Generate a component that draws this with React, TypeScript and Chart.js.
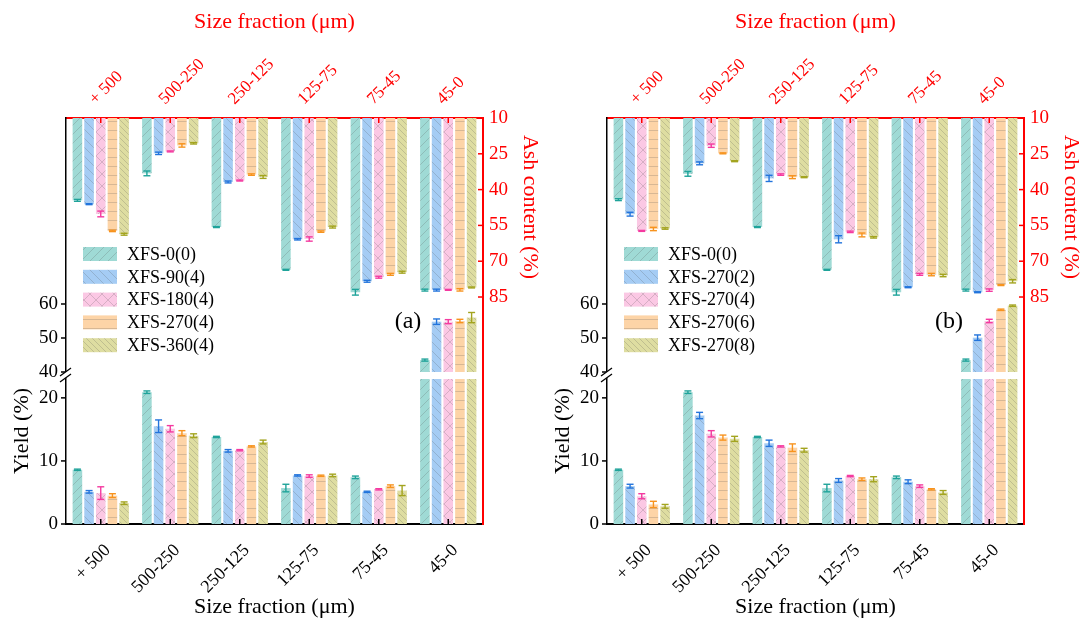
import React, { useEffect, useRef } from 'react';
import { Chart, registerables } from 'chart.js';

Chart.register(...registerables);

const SERIF = '"Liberation Serif", "Times New Roman", Times, serif';
Chart.defaults.font.family = SERIF;

// ---------- data ----------
const categories = ['+ 500', '500-250', '250-125', '125-75', '75-45', '45-0'];
const yieldLowTicks = [0, 10, 20];
const yieldHighTicks = [40, 50, 60];
const ashTicks = [10, 25, 40, 55, 70, 85];

const seriesA = ['XFS-0(0)', 'XFS-90(4)', 'XFS-180(4)', 'XFS-270(4)', 'XFS-360(4)'];
const seriesB = ['XFS-0(0)', 'XFS-270(2)', 'XFS-270(4)', 'XFS-270(6)', 'XFS-270(8)'];

// Panel (a) yield (%)
const yieldA0 = [8.6, 20.9, 13.8, 5.7, 7.4, 43.5];
const yieldA1 = [5.1, 15.5, 11.6, 7.7, 5.1, 54.8];
const yieldA2 = [4.9, 15.1, 11.7, 7.6, 5.5, 54.8];
const yieldA3 = [4.5, 14.4, 12.3, 7.65, 6.0, 55.0];
const yieldA4 = [3.3, 14.0, 13.0, 7.7, 5.3, 56.0];
const yieldErrA0 = [0.1, 0.2, 0.1, 0.6, 0.2, 0.3];
const yieldErrA1 = [0.2, 1.0, 0.2, 0.1, 0.1, 0.8];
const yieldErrA2 = [1.0, 0.5, 0.1, 0.2, 0.1, 0.6];
const yieldErrA3 = [0.3, 0.4, 0.1, 0.1, 0.2, 0.5];
const yieldErrA4 = [0.2, 0.3, 0.3, 0.2, 0.8, 1.5];

// Panel (a) ash content (%)
const ashA0 = [44.5, 33.2, 55.7, 73.6, 83.0, 82.1];
const ashA1 = [46.1, 24.8, 36.8, 60.8, 78.4, 82.1];
const ashA2 = [50.2, 24.0, 36.2, 60.7, 76.7, 82.0];
const ashA3 = [57.3, 21.5, 33.7, 57.6, 75.5, 82.0];
const ashA4 = [58.7, 20.6, 34.7, 55.7, 74.6, 81.0];
const ashErrA0 = [0.4, 1.0, 0.2, 0.2, 1.2, 0.4];
const ashErrA1 = [0.2, 0.5, 0.4, 0.3, 0.4, 0.4];
const ashErrA2 = [1.2, 0.2, 0.2, 0.9, 0.4, 0.2];
const ashErrA3 = [0.3, 0.7, 0.3, 0.3, 0.4, 0.5];
const ashErrA4 = [0.4, 0.3, 0.6, 0.4, 0.4, 0.2];

// Panel (b) yield (%)
const yieldB0 = [8.6, 20.9, 13.8, 5.7, 7.4, 43.5];
const yieldB1 = [6.0, 17.2, 12.8, 6.9, 6.7, 50.1];
const yieldB2 = [4.4, 14.3, 12.3, 7.6, 6.0, 55.0];
const yieldB3 = [3.1, 13.7, 12.1, 7.1, 5.5, 58.3];
const yieldB4 = [2.8, 13.5, 11.7, 7.1, 5.0, 59.5];
const yieldErrB0 = [0.1, 0.2, 0.1, 0.6, 0.2, 0.3];
const yieldErrB1 = [0.3, 0.5, 0.5, 0.3, 0.3, 0.8];
const yieldErrB2 = [0.4, 0.5, 0.1, 0.1, 0.2, 0.5];
const yieldErrB3 = [0.5, 0.4, 0.6, 0.2, 0.1, 0.2];
const yieldErrB4 = [0.3, 0.4, 0.3, 0.4, 0.3, 0.2];

// Panel (b) ash content (%)
const ashB0 = [44.2, 33.4, 55.7, 73.6, 83.0, 82.1];
const ashB1 = [50.3, 29.0, 35.3, 60.8, 80.9, 83.0];
const ashB2 = [57.3, 21.6, 33.7, 57.7, 75.5, 82.1];
const ashB3 = [56.5, 24.8, 34.8, 59.0, 75.6, 80.0];
const ashB4 = [56.3, 28.1, 34.8, 60.0, 76.0, 78.4];
const ashErrB0 = [0.4, 1.0, 0.2, 0.2, 1.2, 0.4];
const ashErrB1 = [0.8, 0.6, 1.3, 1.5, 0.2, 0.2];
const ashErrB2 = [0.2, 0.7, 0.3, 0.3, 0.4, 0.5];
const ashErrB3 = [0.7, 0.2, 0.6, 0.8, 0.5, 0.2];
const ashErrB4 = [0.3, 0.2, 0.2, 0.3, 0.5, 0.7];

// axis break
const BREAK_LOW = 23; // lower segment bars are cut here
const BREAK_HIGH = 40; // upper segment starts here

// ---------- styles ----------
const fillColors = ['#9fdad5', '#a5ccf4', '#fbc8e4', '#fdd4a7', '#dedda1'];
const errColors = ['#1fa39a', '#2274dc', '#f43aa0', '#f7931e', '#a3a41f'];
const hatchKinds = ['fwd', 'back', 'cross', 'horiz', 'backDense'];

function makePattern(kind: string, base: string): CanvasPattern | string {
  const size = kind === 'backDense' ? 6 : kind === 'cross' ? 12 : 9;
  const c = document.createElement('canvas');
  c.width = size;
  c.height = size;
  const g = c.getContext('2d');
  if (!g) return base;
  g.fillStyle = base;
  g.fillRect(0, 0, size, size);
  g.strokeStyle = 'rgba(80,80,80,0.22)';
  g.lineWidth = 1;
  const fwd = () => {
    for (let k = -1; k <= 1; k++) {
      g.beginPath();
      g.moveTo(k * size, size);
      g.lineTo(k * size + size, 0);
      g.stroke();
    }
  };
  const back = () => {
    for (let k = -1; k <= 1; k++) {
      g.beginPath();
      g.moveTo(k * size, 0);
      g.lineTo(k * size + size, size);
      g.stroke();
    }
  };
  if (kind === 'fwd') fwd();
  else if (kind === 'back' || kind === 'backDense') back();
  else if (kind === 'cross') {
    fwd();
    back();
  } else if (kind === 'horiz') {
    g.beginPath();
    g.moveTo(0, size / 2);
    g.lineTo(size, size / 2);
    g.stroke();
  }
  return g.createPattern(c, 'repeat') || base;
}

type PanelProps = {
  tag: string;
  series: string[];
  yields: number[][];
  yieldErrs: number[][];
  ashes: number[][];
  ashErrs: number[][];
};

function Panel({ tag, series, yields, yieldErrs, ashes, ashErrs }: PanelProps) {
  const ref = useRef<HTMLCanvasElement>(null);

  useEffect(() => {
    const canvas = ref.current;
    if (!canvas) return;
    const patterns = hatchKinds.map((k, i) => makePattern(k, fillColors[i]));

    const datasets: any[] = [];
    series.forEach((name, i) => {
      datasets.push({
        label: name,
        data: yields[i].map((v) => (v > BREAK_LOW ? BREAK_LOW : v)),
        values: yields[i],
        errors: yieldErrs[i],
        part: 'low',
        errColor: errColors[i],
        yAxisID: 'yLow',
        stack: 's' + i,
        backgroundColor: patterns[i],
        borderWidth: 0,
      });
    });
    series.forEach((name, i) => {
      datasets.push({
        label: name + ' (upper)',
        data: yields[i].map((v) => (v >= BREAK_HIGH ? [BREAK_HIGH, v] : null)),
        values: yields[i],
        errors: yieldErrs[i],
        part: 'high',
        errColor: errColors[i],
        yAxisID: 'yHigh',
        stack: 's' + i,
        backgroundColor: patterns[i],
        borderWidth: 0,
      });
    });
    series.forEach((name, i) => {
      datasets.push({
        label: name + ' ash',
        data: ashes[i].map((v) => [10, v]),
        values: ashes[i],
        errors: ashErrs[i],
        part: 'ash',
        errColor: errColors[i],
        yAxisID: 'yAsh',
        stack: 's' + i,
        backgroundColor: patterns[i],
        borderWidth: 0,
      });
    });

    const line = (ctx: CanvasRenderingContext2D, x1: number, y1: number, x2: number, y2: number) => {
      ctx.beginPath();
      ctx.moveTo(x1, y1);
      ctx.lineTo(x2, y2);
      ctx.stroke();
    };

    const decor = {
      id: 'decor' + tag,
      afterDatasetsDraw(chart: any) {
        const ctx: CanvasRenderingContext2D = chart.ctx;
        ctx.save();
        chart.data.datasets.forEach((ds: any, di: number) => {
          const meta = chart.getDatasetMeta(di);
          const scale = chart.scales[ds.yAxisID];
          ds.values.forEach((v: number, j: number) => {
            if (v == null) return;
            if (ds.part === 'low' && v > BREAK_LOW) return;
            if (ds.part === 'high' && v < BREAK_HIGH) return;
            const e = ds.errors[j] || 0;
            const el = meta.data[j];
            if (!el) return;
            const xp = el.x;
            const y1 = scale.getPixelForValue(v - e);
            const y2 = scale.getPixelForValue(v + e);
            ctx.strokeStyle = ds.errColor;
            ctx.lineWidth = 1.4;
            line(ctx, xp, y1, xp, y2);
            line(ctx, xp - 3.5, y1, xp + 3.5, y1);
            line(ctx, xp - 3.5, y2, xp + 3.5, y2);
          });
        });
        ctx.restore();
      },
      afterDraw(chart: any) {
        const ctx: CanvasRenderingContext2D = chart.ctx;
        const ca = chart.chartArea;
        const { x, x2, yLow, yHigh, yAsh } = chart.scales;
        ctx.save();
        // bottom ticks (inward)
        ctx.strokeStyle = '#000';
        ctx.lineWidth = 1.5;
        x.ticks.forEach((_t: any, i: number) => {
          const px = x.getPixelForTick(i);
          line(ctx, px, ca.bottom, px, ca.bottom - 5);
        });
        // left ticks (outward)
        [yLow, yHigh].forEach((s: any) => {
          s.ticks.forEach((t: any) => {
            const py = s.getPixelForValue(t.value);
            line(ctx, ca.left, py, ca.left - 5, py);
          });
        });
        // top ticks (inward, red)
        ctx.strokeStyle = '#ff0000';
        x2.ticks.forEach((_t: any, i: number) => {
          const px = x2.getPixelForTick(i);
          line(ctx, px, ca.top, px, ca.top + 5);
        });
        // right ticks (inward, red)
        yAsh.ticks.forEach((t: any) => {
          const py = yAsh.getPixelForValue(t.value);
          line(ctx, ca.right, py, ca.right - 5, py);
        });

        // axis break on the yield axis
        const yb = yLow.top;
        const L = ca.left;
        ctx.fillStyle = '#fff';
        ctx.beginPath();
        ctx.moveTo(L - 6, yb + 4);
        ctx.lineTo(L + 5, yb - 4);
        ctx.lineTo(L + 5, yb + 2);
        ctx.lineTo(L - 6, yb + 10);
        ctx.closePath();
        ctx.fill();
        ctx.strokeStyle = '#000';
        ctx.lineWidth = 1.2;
        line(ctx, L - 6, yb + 4, L + 5, yb - 4);
        line(ctx, L - 6, yb + 10, L + 5, yb + 2);

        // axis titles
        ctx.textAlign = 'center';
        ctx.textBaseline = 'middle';
        ctx.font = `22px ${SERIF}`;
        ctx.fillStyle = '#000';
        ctx.save();
        ctx.translate(22, 431);
        ctx.rotate(-Math.PI / 2);
        ctx.fillText('Yield (%)', 0, 0);
        ctx.restore();
        ctx.fillStyle = '#ff0000';
        ctx.save();
        ctx.translate(530, 207);
        ctx.rotate(Math.PI / 2);
        ctx.fillText('Ash content (%)', 0, 0);
        ctx.restore();

        // legend
        ctx.textAlign = 'left';
        ctx.font = `18px ${SERIF}`;
        series.forEach((name, i) => {
          const cy = 254 + i * 22.8;
          ctx.fillStyle = patterns[i] as any;
          ctx.fillRect(83, cy - 7, 34, 14);
          ctx.fillStyle = '#000';
          ctx.fillText(name, 127, cy + 1);
        });

        // panel tag
        ctx.font = `24px ${SERIF}`;
        ctx.textAlign = 'center';
        ctx.fillStyle = '#000';
        ctx.fillText(tag, 408, 322);
        ctx.restore();
      },
    };

    const chart = new Chart(canvas, {
      type: 'bar',
      data: { labels: categories, datasets },
      options: {
        responsive: false,
        animation: false,
        devicePixelRatio: 1,
        layout: { padding: 0 },
        datasets: { bar: { barPercentage: 0.82, categoryPercentage: 0.84 } },
        plugins: {
          legend: { display: false },
          tooltip: { enabled: false },
        },
        scales: {
          x: {
            type: 'category',
            position: 'bottom',
            offset: true,
            grid: { display: false, drawTicks: false },
            border: { display: true, color: '#000', width: 2 },
            ticks: {
              autoSkip: false,
              maxRotation: 45,
              minRotation: 45,
              color: '#000',
              font: { family: SERIF, size: 18 },
              padding: 16,
              labelOffset: 7,
            },
            title: {
              display: true,
              text: 'Size fraction (μm)',
              color: '#000',
              font: { family: SERIF, size: 22 },
              padding: { top: 0, bottom: 0 },
            },
            afterFit: (s: any) => {
              s.height = 96;
            },
          },
          x2: {
            type: 'category',
            position: 'top',
            labels: categories,
            offset: true,
            grid: { display: false, drawTicks: false },
            border: { display: true, color: '#ff0000', width: 2 },
            ticks: {
              autoSkip: false,
              maxRotation: 45,
              minRotation: 45,
              color: '#ff0000',
              font: { family: SERIF, size: 17 },
              padding: 9,
              labelOffset: 6,
            },
            title: {
              display: true,
              text: 'Size fraction (μm)',
              color: '#ff0000',
              font: { family: SERIF, size: 22 },
              padding: { top: 9, bottom: 0 },
            },
            afterFit: (s: any) => {
              s.height = 118;
            },
          },
          yLow: {
            type: 'linear',
            position: 'left',
            stack: 'yield',
            stackWeight: 152,
            weight: 0,
            stacked: false,
            min: 0,
            max: 24.1,
            grid: { display: false, drawTicks: false },
            border: { display: true, color: '#000', width: 1.5 },
            ticks: { color: '#000', font: { family: SERIF, size: 19 }, padding: 8 },
            afterBuildTicks: (s: any) => {
              s.ticks = yieldLowTicks.map((v) => ({ value: v }));
            },
            afterFit: (s: any) => {
              s.width = 66;
            },
          },
          yHigh: {
            type: 'linear',
            position: 'left',
            stack: 'yield',
            stackWeight: 254,
            weight: 1,
            stacked: false,
            min: 40,
            max: 114.7,
            grid: { display: false, drawTicks: false },
            border: { display: true, color: '#000', width: 1.5 },
            ticks: { color: '#000', font: { family: SERIF, size: 19 }, padding: 8 },
            afterBuildTicks: (s: any) => {
              s.ticks = yieldHighTicks.map((v) => ({ value: v }));
            },
            afterFit: (s: any) => {
              s.width = 66;
            },
          },
          yAsh: {
            type: 'linear',
            position: 'right',
            reverse: true,
            stacked: false,
            min: 10,
            max: 180.1,
            grid: { display: false, drawTicks: false },
            border: { display: true, color: '#ff0000', width: 2 },
            ticks: { color: '#ff0000', font: { family: SERIF, size: 19 }, padding: 6 },
            afterBuildTicks: (s: any) => {
              s.ticks = ashTicks.map((v) => ({ value: v }));
            },
            afterFit: (s: any) => {
              s.width = 57;
            },
          },
        },
      } as any,
      plugins: [decor],
    });
    return () => chart.destroy();
  }, []);

  return <canvas ref={ref} width={540} height={620} style={{ display: 'block', width: 540, height: 620 }} />;
}

export default function App() {
  return (
    <div style={{ position: 'absolute', left: 0, top: 0, width: 1081, height: 620, background: '#fff' }}>
      <div style={{ position: 'absolute', left: 0, top: 0 }}>
        <Panel
          tag="(a)"
          series={seriesA}
          yields={[yieldA0, yieldA1, yieldA2, yieldA3, yieldA4]}
          yieldErrs={[yieldErrA0, yieldErrA1, yieldErrA2, yieldErrA3, yieldErrA4]}
          ashes={[ashA0, ashA1, ashA2, ashA3, ashA4]}
          ashErrs={[ashErrA0, ashErrA1, ashErrA2, ashErrA3, ashErrA4]}
        />
      </div>
      <div style={{ position: 'absolute', left: 541, top: 0 }}>
        <Panel
          tag="(b)"
          series={seriesB}
          yields={[yieldB0, yieldB1, yieldB2, yieldB3, yieldB4]}
          yieldErrs={[yieldErrB0, yieldErrB1, yieldErrB2, yieldErrB3, yieldErrB4]}
          ashes={[ashB0, ashB1, ashB2, ashB3, ashB4]}
          ashErrs={[ashErrB0, ashErrB1, ashErrB2, ashErrB3, ashErrB4]}
        />
      </div>
    </div>
  );
}
